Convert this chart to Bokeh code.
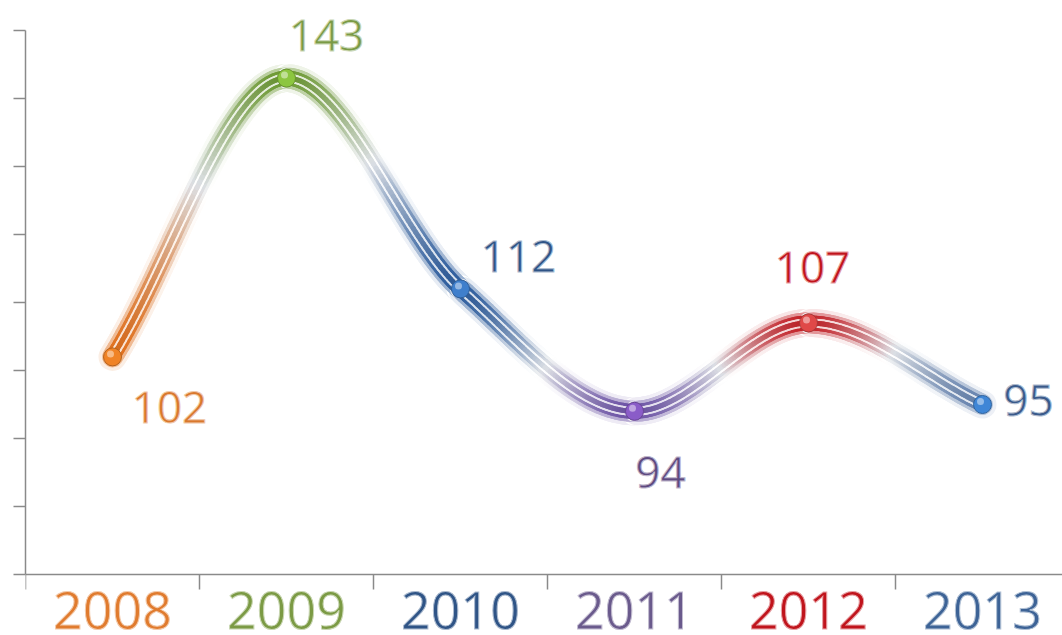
import numpy as np
from bokeh.plotting import figure
from bokeh.models import FixedTicker
from bokeh.core.properties import value
from bokeh.embed import file_html
from bokeh.resources import INLINE

# ---- data ----
years = ["2008", "2009", "2010", "2011", "2012", "2013"]
values = [102, 143, 112, 94, 107, 95]
y_ticks = [70, 80, 90, 100, 110, 120, 130, 140, 150]
x_ticks = [0, 1, 2, 3, 4, 5, 6]

# ---- styles ----
tube_colors = ["#E0701E", "#6E9A35", "#2F5E9E", "#6E55A6", "#C4242A", "#6A86B0"]
marker_colors = ["#F08326", "#8CC63F", "#3F7FCC", "#8A5CC8", "#E04848", "#3F86D6"]
year_colors = ["#E07B2E", "#7B9A44", "#2F5486", "#6A5A8C", "#C0141C", "#3D6396"]
value_colors = ["#D9782D", "#7A9A45", "#2F5486", "#5E4A80", "#C0141C", "#3A5A8A"]
# label offsets from point, in screen pixels (dx right, dy down to digit bottom)
label_dx = [57, 40, 58, 26, 4, 46]
label_dy = [66, -27, -17, 77, -40, 12]

W, H = 1062, 635
LEFT = 25          # frame left (y axis position)
AXIS_Y_PX = 574    # canvas row of value 70
TOP_TICK_PX = 30   # canvas row of value 150
PX_X = 174.0
PX_Y = (AXIS_Y_PX - TOP_TICK_PX) / (y_ticks[-1] - y_ticks[0])
x_end = (W - LEFT) / PX_X
y_start = y_ticks[0] - (H - AXIS_Y_PX) / PX_Y
y_end = y_ticks[-1] + TOP_TICK_PX / PX_Y

VAL_FS = 44
YEAR_FS = 52
BASE_SHIFT = 0.36  # measured shift of the drawn baseline, as a fraction of font size

p = figure(width=W, height=H, x_range=(0, x_end), y_range=(y_start, y_end),
           output_backend="svg", toolbar_location=None,
           min_border_left=LEFT, min_border_right=0, min_border_top=0,
           min_border_bottom=0)
p.outline_line_color = None
p.xgrid.visible = False
p.ygrid.visible = False
p.background_fill_color = "white"
p.border_fill_color = "white"

AX = "#8a8a8a"
for ax in (p.xaxis, p.yaxis):
    ax.major_label_text_font_size = "0px"
    ax.major_label_text_color = None
    ax.major_label_standoff = 0
    ax.major_tick_in = 0
    ax.minor_tick_line_color = None
    ax.axis_line_color = AX
    ax.axis_line_width = 1.5
    ax.major_tick_line_color = AX
    ax.major_tick_line_width = 1.5

p.xaxis.ticker = FixedTicker(ticks=x_ticks)
p.xaxis.fixed_location = y_ticks[0]
p.xaxis.major_tick_out = 15

p.yaxis.ticker = FixedTicker(ticks=y_ticks)
p.yaxis.bounds = (y_ticks[0], y_ticks[-1])
p.yaxis.major_tick_out = 12


def hex2rgb(h):
    h = h.lstrip("#")
    return np.array([int(h[i:i + 2], 16) for i in (0, 2, 4)], dtype=float)


def rgb2hex(c):
    c = np.clip(np.round(c), 0, 255).astype(int)
    return "#%02x%02x%02x" % tuple(c)


def mix(a, b, f):
    return a * (1 - f) + b * f


WHITE = hex2rgb("#ffffff")
BLACK = hex2rgb("#000000")

# ---- smooth curve (monotone cubic Hermite through the values) ----
n = len(values)
xs = np.arange(n) + 0.5
d = [values[k + 1] - values[k] for k in range(n - 1)]
m = [0.0] * n
m[0] = d[0]
m[-1] = d[-1]
for k in range(1, n - 1):
    if d[k - 1] * d[k] <= 0:
        m[k] = 0.0
    else:
        m[k] = 2 * d[k - 1] * d[k] / (d[k - 1] + d[k])

cx, cy, ct, ck = [], [], [], []
NS = 70
for k in range(n - 1):
    t = np.linspace(0, 1, NS + 1)
    h00 = 2 * t**3 - 3 * t**2 + 1
    h10 = t**3 - 2 * t**2 + t
    h01 = -2 * t**3 + 3 * t**2
    h11 = t**3 - t**2
    yy = h00 * values[k] + h10 * m[k] + h01 * values[k + 1] + h11 * m[k + 1]
    xx = xs[k] + t
    start = 0 if k == 0 else 1
    cx.extend(xx[start:])
    cy.extend(yy[start:])
    ct.extend(t[start:])
    ck.extend([k] * (NS + 1 - start))
cx = np.array(cx); cy = np.array(cy); ct = np.array(ct); ck = np.array(ck)

x0, x1 = cx[:-1], cx[1:]
y0, y1 = cy[:-1], cy[1:]
tm = (ct[:-1] + np.where(ct[1:] == 0, 1.0, ct[1:])) / 2
km = ck[1:]

# layers: (width, colour at a point, colour at the midpoint between points)
layers = [
    (28, lambda c: mix(c, WHITE, 0.88), hex2rgb("#ffffff")),
    (21, lambda c: mix(c, WHITE, 0.5), hex2rgb("#eef0f2")),
    (15, lambda c: c, hex2rgb("#dde0e5")),
    (9, lambda c: mix(c, WHITE, 0.8), hex2rgb("#ffffff")),
    (5, lambda c: mix(c, BLACK, 0.05), hex2rgb("#dde0e5")),
]

for width, fcol, midc in layers:
    cols = []
    for t, k in zip(tm, km):
        if t < 0.5:
            base = hex2rgb(tube_colors[k]); f = (t / 0.5) ** 1.6
        else:
            base = hex2rgb(tube_colors[k + 1]); f = ((1 - t) / 0.5) ** 1.6
        cols.append(rgb2hex(mix(fcol(base), midc, f)))
    p.segment(x0=list(x0), y0=list(y0), x1=list(x1), y1=list(y1),
              line_color=cols, line_width=width, line_cap="round")

# ---- point markers ----
p.scatter(list(xs), values, size=18,
          fill_color=marker_colors,
          line_color=[rgb2hex(mix(hex2rgb(c), BLACK, 0.25)) for c in marker_colors],
          line_width=1)
p.scatter(list(xs - 2 / PX_X), [v + 3 / PX_Y for v in values], size=7,
          fill_color="white", fill_alpha=0.45, line_color=None)

# ---- value labels ----
lx = [xs[i] + label_dx[i] / PX_X for i in range(n)]
ly = [values[i] - (label_dy[i] - BASE_SHIFT * VAL_FS) / PX_Y for i in range(n)]
p.text(x=lx, y=ly, text=[str(v) for v in values], text_color=value_colors,
       text_font=value("Open Sans"), text_font_size=f"{VAL_FS}px",
       text_align="center", text_baseline="alphabetic",
       text_outline_color=[rgb2hex(mix(hex2rgb(c), WHITE, 0.6)) for c in value_colors])

# ---- year labels below the axis ----
yb = y_ticks[0] - (55 - BASE_SHIFT * YEAR_FS) / PX_Y
p.text(x=list(xs), y=[yb] * n, text=years, text_color=year_colors,
       text_font=value("Open Sans"), text_font_size=f"{YEAR_FS}px",
       text_align="center", text_baseline="alphabetic",
       text_outline_color=[rgb2hex(mix(hex2rgb(c), WHITE, 0.6)) for c in year_colors])

open("out.html", "w").write(file_html(p, INLINE))
